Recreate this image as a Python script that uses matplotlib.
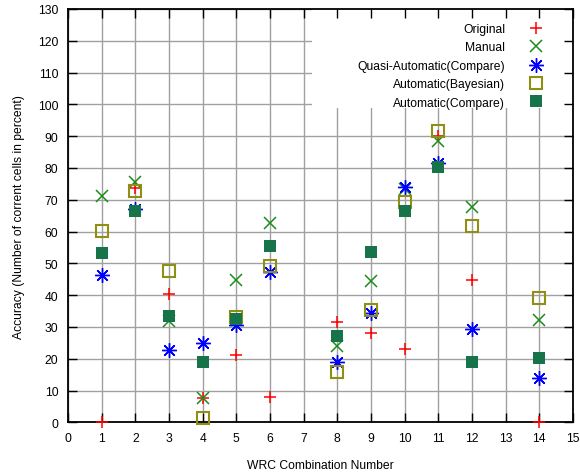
import matplotlib
matplotlib.use('Agg')
import matplotlib.pyplot as plt
from matplotlib.patches import Rectangle

plt.rcParams['font.family'] = ['Liberation Sans', 'DejaVu Sans']

# WRC combination numbers with results
wrc = [1, 2, 3, 4, 5, 6, 8, 9, 10, 11, 12, 14]

original = [0, 73.6, 40.2, 7.6, 21.3, 7.9, 31.5, 28.1, 23.1, 89.9, 44.9, 0]
manual = [71.3, 75.7, 32.0, 7.6, 44.9, 62.6, 23.9, 44.5, 73.5, 88.6, 67.6, 32.3]
quasi_compare = [46.4, 67.0, 22.6, 25.0, 30.7, 47.3, 18.9, 34.5, 74.1, 81.7, 29.4, 14.0]
auto_bayesian = [60.3, 72.9, 47.5, 1.3, 33.1, 49.2, 15.8, 35.4, 69.4, 91.5, 61.7, 39.2]
auto_compare = [53.4, 66.4, 33.3, 19.1, 32.4, 55.4, 27.3, 53.6, 66.4, 80.2, 19.1, 20.3]

xticks = list(range(0, 16))
yticks = list(range(0, 131, 10))

fig = plt.figure(figsize=(5.8, 4.77), dpi=100)
ax = fig.add_axes([68/580, 1 - 423.3/477, 505/580, 413.3/477])

# grid drawn by hand so the legend box can hide it but not the ticks
for t in xticks:
    ax.axvline(t, color='#a0a0a0', lw=1, zorder=0.5)
for t in yticks:
    ax.axhline(t, color='#a0a0a0', lw=1, zorder=0.5)

# white legend area
ax.add_patch(Rectangle((0.483, 0.760), 0.52, 0.25, transform=ax.transAxes,
                       facecolor='white', edgecolor='none', zorder=0.8))

ax.plot(wrc, original, linestyle='none', marker='+', ms=9, mew=1.1,
        color='#ff0000', label='Original', zorder=4, clip_on=False)
ax.plot(wrc, manual, linestyle='none', marker='x', ms=8.5, mew=1.1,
        color='#1a8c1a', label='Manual', zorder=4, clip_on=False)
ax.plot(wrc, quasi_compare, linestyle='none', marker=(8, 2, 0), ms=10.5, mew=1.0,
        color='#0000ff', label='Quasi-Automatic(Compare)', zorder=4, clip_on=False)
ax.plot(wrc, auto_bayesian, linestyle='none', marker='s', ms=8.5, mew=1.5,
        markerfacecolor='none', markeredgecolor='#8f8f14',
        label='Automatic(Bayesian)', zorder=4, clip_on=False)
ax.plot(wrc, auto_compare, linestyle='none', marker='s', ms=9, mew=0,
        color='#17744a', label='Automatic(Compare)', zorder=4, clip_on=False)

ax.set_xlim(0, 15)
ax.set_ylim(0, 130)
ax.set_xticks(xticks)
ax.set_yticks(yticks)
ax.tick_params(direction='in', length=6.5, width=1, top=True, right=True,
               labelsize=8.7, pad=7, colors='black')
for s in ax.spines.values():
    s.set_linewidth(1.3)
    s.set_zorder(3)

ax.set_xlabel('WRC Combination Number', fontsize=8.7, labelpad=11)
ax.set_ylabel('Accuracy (Number of corrent cells in percent)', fontsize=8.7, labelpad=9)

ax.legend(loc='upper right', bbox_to_anchor=(0.9505, 0.966), frameon=False,
          markerfirst=False, numpoints=1, fontsize=8.7, handlelength=2.0,
          handletextpad=1.55, labelspacing=0.53, borderpad=0, borderaxespad=0)

fig.savefig('out.png', dpi=100)
